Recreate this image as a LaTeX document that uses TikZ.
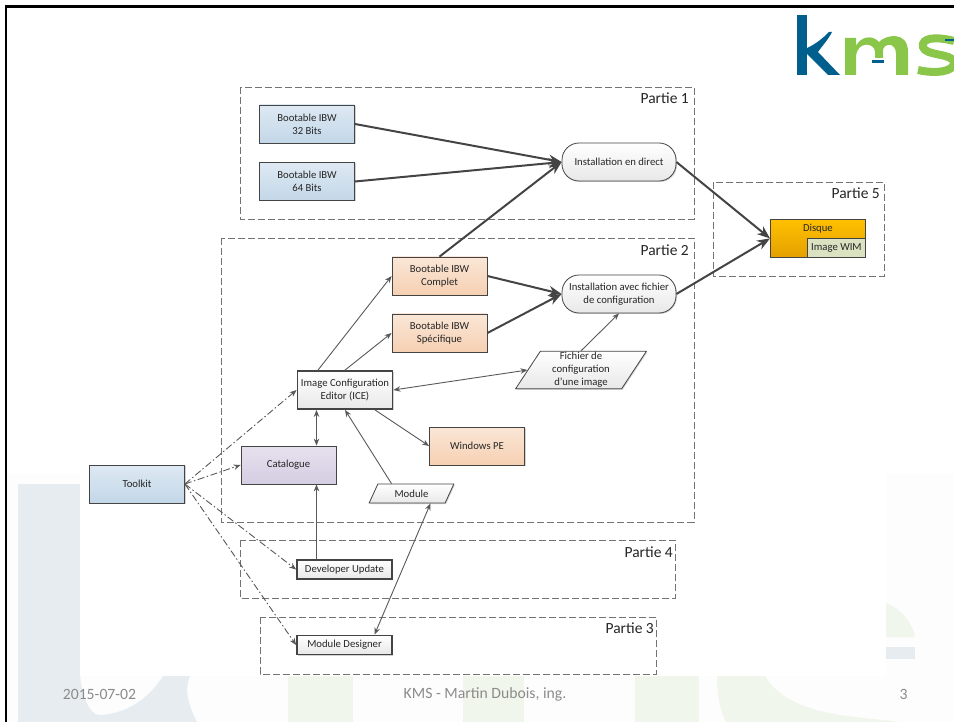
\documentclass[tikz,border=0pt]{standalone}
\usepackage{fontspec}
\setmainfont{Carlito}
\usetikzlibrary{arrows.meta,shadows,shapes.geometric}
\definecolor{kmsblue}{HTML}{005F8C}
\definecolor{kmsgreen}{HTML}{8AC64A}
\definecolor{markblue}{HTML}{E6ECF0}
\definecolor{markgreen}{HTML}{F0F6EB}
\definecolor{footgray}{HTML}{8B8B8B}
\definecolor{linegray}{HTML}{444444}
\definecolor{blueA}{HTML}{DEE9F3}
\definecolor{blueB}{HTML}{C3D7E8}
\definecolor{orangeA}{HTML}{FAE6D7}
\definecolor{orangeB}{HTML}{F6D0B2}
\definecolor{purpleA}{HTML}{E6E1EE}
\definecolor{purpleB}{HTML}{D5CDE2}
\definecolor{goldA}{HTML}{FFC000}
\definecolor{goldB}{HTML}{E4A000}
\definecolor{wimgreen}{HTML}{DAE2C2}
\tikzset{
  basebox/.style={draw=linegray, line width=0.8pt, minimum width=95pt, minimum height=38pt,
    inner sep=1pt, align=center, text=black!85, font=\fontsize{10.7}{13}\selectfont,
    drop shadow={shadow xshift=1pt, shadow yshift=-1pt, fill=black!35, opacity=0.5}},
  bluebox/.style={basebox, top color=blueA, bottom color=blueB},
  orangebox/.style={basebox, top color=orangeA, bottom color=orangeB},
  purplebox/.style={basebox, top color=purpleA, bottom color=purpleB},
  whitebox/.style={basebox, top color=white, bottom color=black!9},
  toolbox/.style={whitebox, line width=1.8pt},
  installbox/.style={whitebox, minimum width=114pt, rounded corners=17pt},
  databox/.style={whitebox, trapezium, trapezium left angle=64, trapezium right angle=116,
    trapezium stretches=true},
  partframe/.style={draw=black!55, line width=0.8pt, dash pattern=on 7pt off 3pt},
  partlabel/.style={anchor=north east, inner sep=0pt, text=black!85, font=\fontsize{15.5}{18}\selectfont},
  footlabel/.style={inner sep=0pt, text=footgray, font=\fontsize{15.7}{18}\selectfont},
  bigarrow/.style={draw=linegray, line width=2pt, -{Stealth[length=13pt,width=10pt]}},
  thinarrow/.style={draw=black!65, line width=0.9pt, -{Stealth[length=7pt,width=5.5pt]}},
  bothways/.style={thinarrow, {Stealth[length=7pt,width=5.5pt]}-{Stealth[length=7pt,width=5.5pt]}},
  toolarrow/.style={thinarrow, dash pattern=on 7pt off 2.5pt on 1.5pt off 2.5pt},
}
\begin{document}
\begin{tikzpicture}[x=1pt,y=-1pt]
  \useasboundingbox (0,0) rectangle (954,722);
  % watermark behind the slide
  \fill[black!0.7] (7,473) rectangle (954,722);
  \fill[markblue] (18,484) rectangle (80,722);
  \fill[markblue] (80,673) .. controls (81,695) and (90,716) .. (100,715)
    .. controls (125,714) and (148,700) .. (163,676) -- (190,676)
    .. controls (184,688) and (188,705) .. (197,722) -- (80,722) -- cycle;
  \fill[markgreen] (288,676) rectangle (353,722);
  \fill[markgreen] (463,676) rectangle (524,722);
  \fill[markgreen] (635,676) rectangle (699,722);
  \fill[markgreen] (717,676) .. controls (717,695) and (720,710) .. (726,722) -- (900,722)
    .. controls (860,716) and (790,718) .. (765,676) -- cycle;
  \fill[markgreen] (886,603) .. controls (902,610) and (912,622) .. (915,637) -- (886,637) -- cycle;
  \fill[markblue] (886,647) rectangle (915,659);
  \fill[white] (80,473) rectangle (886,676);
  % slide border
  \draw[black, line width=2.6pt] (6,722) -- (6,6.5) -- (954,6.5);
  % logo
  \fill[kmsblue] (797,15) rectangle (807,75);
  \fill[kmsblue] (807,48) .. controls (816,44) and (823,38) .. (829,32) -- (832,32)
    .. controls (828,40) and (822,46) .. (818,52) -- (840,75) -- (828,75) -- (807,54) -- cycle;
  \fill[kmsgreen] (845,38) -- (856,38) -- (856,46) .. controls (860,37) and (872,34) .. (879,42)
    .. controls (885,35) and (908,30) .. (908,52) -- (908,75) -- (896,75) -- (896,54)
    .. controls (896,42) and (884,43) .. (883,50) -- (883,58) -- (875,58) -- (875,52)
    .. controls (875,43) and (858,40) .. (856,56) -- (856,75) -- (845,75) -- cycle;
  \draw[kmsgreen, line width=8pt] (954,41) .. controls (935,36) and (921,38) .. (923,47)
    .. controls (925,56) and (952,53) .. (954,62) .. controls (955,72) and (935,74) .. (918,70);
  \fill[kmsblue] (872,60) rectangle (884,63);
  \fill[kmsblue] (945,39.5) rectangle (954,41.5);
  % part frames
  \draw[partframe] (240,87) rectangle (694,219);
  \draw[partframe] (221,238) rectangle (694,522);
  \draw[partframe] (240,540) rectangle (675,598);
  \draw[partframe] (260,617) rectangle (656,674);
  \draw[partframe] (713,182) rectangle (884,276);
  \node[partlabel] (labelA) at (689,93) {Partie 1};
  \node[partlabel] (labelB) at (689,245) {Partie 2};
  \node[partlabel] (labelC) at (654,622.5) {Partie 3};
  \node[partlabel] (labelD) at (673,547) {Partie 4};
  \node[partlabel] (labelE) at (880,187.5) {Partie 5};
  % boxes
  \node[bluebox] (ibwA) at (307,124) {Bootable IBW\\32 Bits};
  \node[bluebox] (ibwB) at (307,181.5) {Bootable IBW\\64 Bits};
  \node[installbox] (direct) at (619,162) {Installation en direct};
  \node[installbox] (avec) at (619,294) {Installation avec fichier\\de configuration};
  \node[orangebox] (complet) at (439.5,276) {Bootable IBW\\Complet};
  \node[orangebox] (specific) at (439.5,333) {Bootable IBW\\Spécifique};
  \node[orangebox] (winpe) at (477,446) {Windows PE};
  \node[toolbox] (ice) at (345,390) {Image Configuration\\Editor (ICE)};
  \node[purplebox] (catalog) at (288.5,465) {Catalogue};
  \node[bluebox] (toolkit) at (137,484) {Toolkit};
  \node[databox, minimum width=131pt, minimum height=37.5pt] (fichier) at (581,370)
    {Fichier de\\configuration\\d'une image};
  \node[databox, minimum width=85pt, minimum height=19pt] (module) at (411.5,493.5) {Module};
  \node[toolbox, minimum height=19pt] (devupdate) at (344.5,569.5) {Developer Update};
  \node[toolbox, minimum height=19pt] (designer) at (344.5,645) {Module Designer};
  \node[basebox, anchor=north west, top color=goldA, bottom color=goldB, text depth=21pt]
    (disque) at (770,219) {Disque};
  \node[basebox, minimum width=58pt, minimum height=19pt, anchor=south east, drop shadow={opacity=0},
    fill=wimgreen] (wim) at (disque.south east) {Image WIM};
  % heavy connectors
  \draw[bigarrow] (ibwA.east) -- (direct.west);
  \draw[bigarrow] (ibwB.east) -- (direct.west);
  \draw[bigarrow] (complet.north) -- (direct.west);
  \draw[bigarrow] (complet.east) -- (avec.west);
  \draw[bigarrow] (specific.east) -- (avec.west);
  \draw[bigarrow] (direct.east) -- (disque.west);
  \draw[bigarrow] (avec.east) -- (disque.west);
  % thin connectors
  \draw[thinarrow] ([xshift=-27pt]ice.north) -- (complet.west);
  \draw[thinarrow] (ice.north) -- (specific.west);
  \draw[thinarrow] (fichier.north) -- (avec.south);
  \draw[bothways] (ice.east) -- (fichier.west);
  \draw[bothways] ([xshift=-28.5pt]ice.south) -- ([xshift=28pt]catalog.north);
  \draw[thinarrow] ([xshift=30pt]ice.south) -- (winpe.west);
  \draw[thinarrow] ([xshift=-20pt]module.north) -- (ice.south);
  \draw[thinarrow] ([xshift=-28pt]devupdate.north) -- ([xshift=28pt]catalog.south);
  \draw[bothways] ([xshift=30pt]designer.north) -- ([xshift=19pt]module.south);
  % toolkit connectors
  \draw[toolarrow] (toolkit.east) -- (ice.west);
  \draw[toolarrow] (toolkit.east) -- (catalog.west);
  \draw[toolarrow] (toolkit.east) -- (devupdate.west);
  \draw[toolarrow] (toolkit.east) -- (designer.west);
  % footer
  \node[footlabel] (footdate) at (99.5,694) {2015-07-02};
  \node[footlabel] (footname) at (485,694) {KMS - Martin Dubois, ing.};
  \node[footlabel] (footpage) at (903.5,694) {3};
\end{tikzpicture}
\end{document}
